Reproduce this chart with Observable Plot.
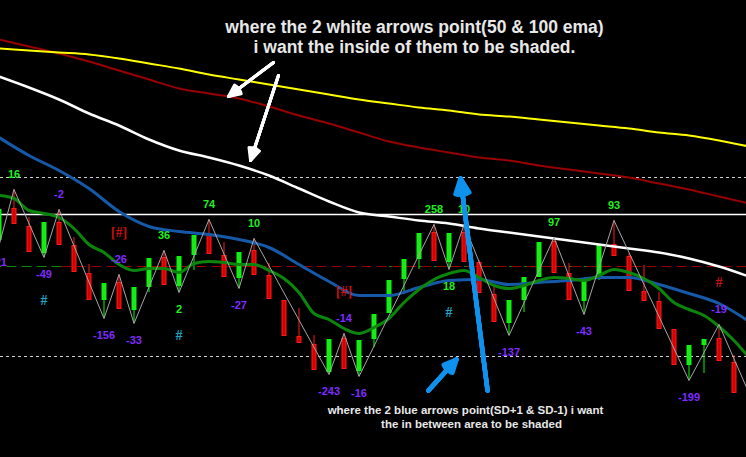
<!DOCTYPE html>
<html>
<head>
<meta charset="utf-8">
<script src="https://cdn.jsdelivr.net/npm/d3@7"></script>
<script src="https://cdn.jsdelivr.net/npm/@observablehq/plot@0.6"></script>
<style>
  html, body { margin: 0; padding: 0; background: #000; }
  #chart svg { display: block; overflow: hidden; }
</style>
</head>
<body>
<div id="chart"></div>
<script>
// ---- Price bars (bar index 0..51, price in points) ----
const opens  = [217,249,231,204,235,212,184,157,175,147,170,200,171,202,223,202,179,207,182,157,121,113,85,119,86,118,144,178,198,225,195,225,195,163,134,157,180,216,184,156,179,213,201,166,156,128,92,112,119,95,64,47];
const closes = [248,233,205,235,212,185,157,174,148,170,199,172,201,222,203,180,205,182,158,121,114,87,118,88,117,143,177,198,224,196,224,195,164,135,157,180,215,184,157,179,212,201,166,156,128,92,112,118,96,64,47,32];
const highs  = [248,268,240,235,248,220,193,174,183,170,199,207,201,222,238,215,205,219,194,157,149,122,118,124,117,143,177,198,224,233,224,233,197,172,157,180,215,220,194,179,212,237,204,192,165,128,112,118,133,102,67,57];
const lows   = [212,233,205,200,212,185,157,139,148,134,165,172,165,187,203,180,169,182,158,121,114,87,83,88,81,110,144,163,188,196,188,195,164,135,122,145,180,184,157,143,177,201,166,156,128,92,77,84,96,64,47,30];

// ---- Moving averages ----
// 100 / 50 EMA and the band lines, sampled every second bar (0, 2, 4 ... 50)
const ema100 = [418,411,404,396,387,378,369,364,359,351,342,334,325,316,310,305,300,297,292,288,284,280,274,268,261,254];
const slowMA = [409,407,405,403,399,394,389,383,378,373,368,363,358,354,350,347,343,341,338,335,332,329,325,322,317,311];
const ema50  = [381,370,358,344,332,318,307,300,292,282,269,256,245,241,237,234,229,225,221,217,213,209,205,199,191,181];
const midMA  = [320,302,287,269,246,231,226,223,218,210,193,176,162,162,170,177,178,173,175,177,180,180,173,164,154,136];
// fast average, one value per bar (0 .. 50)
const fastMA = [262,259,247,244,240,229,213,205,193,187,189,189,185,194,196,195,193,193,187,179,165,144,138,129,124,130,139,155,168,178,184,187,180,172,169,172,177,180,179,177,182,188,185,179,169,155,148,142,131,117,100];

// ---- ZigZag swings ----
const swingBars  = [0,1,3,4,7,8,9,11,12,14,16,17,22,23,24,29,30,31,34,37,39,41,46,48,51];
const swingKinds = ["L","H","L","H","L","H","L","H","L","H","L","H","L","H","L","H","L","H","L","H","L","H","L","H","L"];
const swingLabels = ["-21","16","-49","-2","-156","-26","-33","36","2","74","-27","10","-243","-14","-16","258","18","10","-137","97","-43","93","-199","-19",""];

// signal markers
const markBars  = [3, 8, 12, 23, 30, 48];
const markTexts = ["#", "[#]", "#", "[#]", "#", "#"];

// ---- Horizontal levels ----
const pivotLevel = 243;          // solid white
const bandLevels = [280, 101];   // SD+1 / SD-1 (dotted)
const midLevel = 191;            // dashed red

// ---- Annotation arrows (bar index / price) ----
const whiteArrows = [
  {x1: 18.30, y1: 395, x2: 15.30, y2: 361},
  {x1: 18.63, y1: 382, x2: 16.77, y2: 297}
];
const blueArrows = [
  {x1: 32.57, y1: 67, x2: 30.77, y2: 279},
  {x1: 28.63, y1: 67, x2: 30.50, y2: 98}
];

const noteTop = ["where the 2 white arrows point(50 & 100 ema)", "i want the inside of them to be shaded."];
const noteBottom = ["where the 2 blue arrows point(SD+1 & SD-1) i want", "the in between area to be shaded"];

// ---- Build tables ----
const bars = opens.map((o, i) => ({
  i, open: o, close: closes[i], high: highs[i], low: lows[i],
  top: Math.max(o, closes[i]), bottom: Math.min(o, closes[i]), up: closes[i] > o
}));
const upBars = bars.filter(d => d.up);
const downBars = bars.filter(d => !d.up);

const even = (arr) => arr.map((v, k) => ({i: 2 * k, v}));
const every = (arr) => arr.map((v, i) => ({i, v}));

const swings = swingBars.map((i, k) => ({
  i, kind: swingKinds[k], label: swingLabels[k],
  v: swingKinds[k] === "H" ? highs[i] : lows[i]
}));
const marks = markBars.map((i, k) => {
  const s = swings.find(d => d.i === i);
  return {i, text: markTexts[k], kind: s.kind, v: s.v};
});

const GREEN = "#22ee22", PURPLE = "#7f2bff";
const SANS = "Liberation Sans, Arial, sans-serif";
const labelFont = {fontFamily: SANS, fontWeight: "bold", fontSize: 11, clip: true};

function swingText(kind, positive) {
  return Plot.text(
    swings.filter(d => d.label && d.kind === kind && (positive ? !d.label.startsWith("-") : d.label.startsWith("-"))),
    {x: "i", y: "v", text: "label", dy: kind === "H" ? -15 : 17, fill: positive ? GREEN : PURPLE, ...labelFont}
  );
}

function candleMarks(data, edge, body) {
  return [
    Plot.ruleX(data, {x: "i", y1: "high", y2: "low", stroke: edge, strokeWidth: 1, clip: true}),
    Plot.ruleX(data, {x: "i", y1: "top", y2: "bottom", stroke: edge, strokeWidth: 5, clip: true}),
    Plot.ruleX(data, {x: "i", y1: "top", y2: "bottom", stroke: body, strokeWidth: 3, insetTop: 1, insetBottom: 1, clip: true})
  ];
}

function solidArrows(data, color, width, len) {
  return [50, 34, 18, 4].map(a =>
    Plot.arrow(data, {x1: "x1", y1: "y1", x2: "x2", y2: "y2", stroke: color, strokeWidth: width, headAngle: a, headLength: len, clip: true})
  );
}

function note(text, dx, dy, size) {
  return Plot.text([text], {text: d => d, frameAnchor: "top", lineAnchor: "middle", dx, dy, fill: "#e8e8e8", fontFamily: SANS, fontWeight: "bold", fontSize: size});
}

const chart = Plot.plot({
  width: 746,
  height: 457,
  margin: 0,
  x: {domain: [0.1, 49.8333], axis: null},
  y: {domain: [0, 457], axis: null},
  style: {background: "#000", color: "#fff"},
  marks: [
    // levels
    Plot.ruleY(bandLevels, {y: d => d, stroke: "#cfcfcf", strokeWidth: 1, strokeDasharray: "3,3"}),
    Plot.ruleY([{y: midLevel, a: 0, b: 4.2}, {y: midLevel, a: 25.5, b: 41}], {y: "y", x1: "a", x2: "b", stroke: "#0a8a0a", strokeWidth: 1, strokeDasharray: "10,5", strokeDashoffset: 7}),
    Plot.ruleY([{y: midLevel, a: 4.2, b: 50}], {y: "y", x1: "a", x2: "b", stroke: "#9a0000", strokeWidth: 1, strokeDasharray: "10,5"}),
    Plot.ruleY([pivotLevel], {y: d => d, stroke: "#ffffff", strokeWidth: 1.5}),

    // candles
    ...candleMarks(downBars, "#ff1a1a", "#d40000"),
    ...candleMarks(upBars, "#00ff00", "#1ee61e"),

    // moving averages
    Plot.line(even(ema100), {x: "i", y: "v", stroke: "#990000", strokeWidth: 2, curve: "monotone-x", clip: true}),
    Plot.line(even(slowMA), {x: "i", y: "v", stroke: "#ffff00", strokeWidth: 2, curve: "monotone-x", clip: true}),
    Plot.line(even(ema50), {x: "i", y: "v", stroke: "#ffffff", strokeWidth: 2.5, curve: "monotone-x", clip: true}),
    Plot.line(even(midMA), {x: "i", y: "v", stroke: "#1559a8", strokeWidth: 3, curve: "monotone-x", clip: true}),
    Plot.line(every(fastMA), {x: "i", y: "v", stroke: "#0b850b", strokeWidth: 3, curve: "monotone-x", clip: true}),

    // zigzag
    Plot.line(swings, {x: "i", y: "v", stroke: "#a6a6a6", strokeWidth: 1, clip: true}),

    // swing labels
    swingText("H", true), swingText("H", false),
    swingText("L", true), swingText("L", false),

    // signal markers
    Plot.text(marks.filter(d => d.kind === "L"), {x: "i", y: "v", text: "text", dy: 43, fill: "#1fa6c4", fontFamily: "Liberation Serif, serif", fontSize: 14, fontWeight: "bold", clip: true}),
    Plot.text(marks.filter(d => d.kind === "H"), {x: "i", y: "v", text: "text", dy: -42, fill: "#c41010", fontFamily: "Liberation Serif, serif", fontSize: 14, fontWeight: "bold", clip: true}),

    // annotation arrows
    ...solidArrows(whiteArrows, "#ffffff", 3, 6.5),
    ...solidArrows(blueArrows, "#0f92ee", 4.5, 5.5),

    // notes
    note(noteTop[0], 41, 27, 17.5),
    note(noteTop[1], 41, 47, 17.5),
    note(noteBottom[0], 92, 410, 11.5),
    note(noteBottom[1], 98, 424, 11.5)
  ]
});

document.getElementById("chart").appendChild(chart);
</script>
</body>
</html>
